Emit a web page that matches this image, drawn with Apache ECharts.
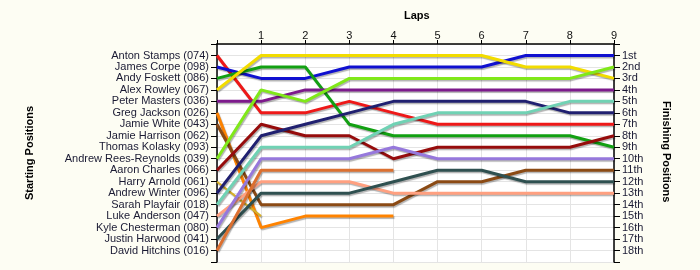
<!DOCTYPE html>
<html>
<head>
<meta charset="utf-8">
<script src="https://cdn.jsdelivr.net/npm/echarts@6/dist/echarts.min.js"></script>
<style>html,body{margin:0;padding:0;background:#fdfdf3;}#c{width:700px;height:270px;}</style>
</head>
<body>
<div id="c"></div>
<script>
// ---- data ----
const laps = [0, 1, 2, 3, 4, 5, 6, 7, 8, 9];
const startLabels = [
  'Anton Stamps (074)', 'James Corpe (098)', 'Andy Foskett (086)', 'Alex Rowley (067)',
  'Peter Masters (036)', 'Greg Jackson (026)', 'Jamie White (043)', 'Jamie Harrison (062)',
  'Thomas Kolasky (093)', 'Andrew Rees-Reynolds (039)', 'Aaron Charles (066)', 'Harry Arnold (061)',
  'Andrew Winter (096)', 'Sarah Playfair (018)', 'Luke Anderson (047)', 'Kyle Chesterman (080)',
  'Justin Harwood (041)', 'David Hitchins (016)'
];
const finishLabels = ['1st','2nd','3rd','4th','5th','6th','7th','8th','9th','10th',
  '11th','12th','13th','14th','15th','16th','17th','18th'];

const antonStamps       = [1, 6, 6, 5, 6, 7, 7, 7, 7, 7];
const jamesCorpe        = [2, 3, 3, 2, 2, 2, 2, 1, 1, 1];
const andyFoskett       = [3, 2, 2, 7, 8, 8, 8, 8, 8, 9];
const alexRowley        = [4, 1, 1, 1, 1, 1, 1, 2, 2, 3];
const peterMasters      = [5, 5, 4, 4, 4, 4, 4, 4, 4, 4];
const gregJackson       = [6, 16, 15, 15, 15];
const jamieWhite        = [7, 14, 14, 14, 14, 12, 12, 11, 11, 11];
const andrewReesReynolds= [10, 4, 5, 3, 3, 3, 3, 3, 3, 2];
const aaronCharles      = [11, 7, 8, 8, 10, 9, 9, 9, 9, 8];
const harryArnold       = [12, 15];
const andrewWinter      = [13, 8, 7, 6, 5, 5, 5, 5, 6, 6];
const sarahPlayfair     = [14, 9, 9, 9, 7, 6, 6, 6, 5, 5];
const lukeAnderson      = [15, 12, 12, 12, 13, 13, 13, 13, 13, 13];
const kyleChesterman    = [16, 10, 10, 10, 9, 10, 10, 10, 10, 10];
const justinHarwood     = [17, 13, 13, 13, 12, 11, 11, 12, 12, 12];
const davidHitchins     = [18, 11, 11, 11, 11];

const seriesData = [
  ['Anton Stamps', antonStamps], ['James Corpe', jamesCorpe], ['Andy Foskett', andyFoskett],
  ['Alex Rowley', alexRowley], ['Peter Masters', peterMasters], ['Greg Jackson', gregJackson],
  ['Jamie White', jamieWhite], ['Andrew Rees-Reynolds', andrewReesReynolds],
  ['Aaron Charles', aaronCharles], ['Harry Arnold', harryArnold], ['Andrew Winter', andrewWinter],
  ['Sarah Playfair', sarahPlayfair], ['Luke Anderson', lukeAnderson],
  ['Kyle Chesterman', kyleChesterman], ['Justin Harwood', justinHarwood],
  ['David Hitchins', davidHitchins]
];
// styles
const colorMap = {
  'Anton Stamps':'#ee1818','James Corpe':'#1010d0','Andy Foskett':'#12a012','Alex Rowley':'#f2dc00',
  'Peter Masters':'#7d1a8c','Greg Jackson':'#ff8300','Jamie White':'#8b4a14','Andrew Rees-Reynolds':'#80e81a',
  'Aaron Charles':'#960c0c','Harry Arnold':'#d8b028','Andrew Winter':'#202070','Sarah Playfair':'#70d2b4',
  'Luke Anderson':'#ffa080','Kyle Chesterman':'#9678dc','Justin Harwood':'#2f5050','David Hitchins':'#dc7030'
};

const FONT = 'Liberation Sans';
const series = seriesData.map(([name, arr]) => ({
  name: name,
  type: 'line',
  yAxisIndex: 0,
  symbol: 'none',
  showSymbol: false,
  data: arr.map((p, i) => [laps[i], p]),
  lineStyle: {
    width: name === 'Harry Arnold' ? 2 : 3,
    color: colorMap[name],
    shadowColor: 'rgba(0,0,0,0.3)',
    shadowOffsetX: 1,
    shadowOffsetY: 1.5,
    shadowBlur: 1
  },
  itemStyle: { color: colorMap[name] },
  silent: true
}));

const axisY = (pos, labels, split) => ({
  type: 'value',
  position: pos,
  inverse: true,
  min: 0, max: 19, interval: 1,
  axisLine: { show: true, lineStyle: { color: '#000', width: 1.5 } },
  axisTick: { show: true, length: 6, lineStyle: { color: '#000', width: 1 } },
  axisLabel: {
    formatter: v => labels[v - 1] || '',
    color: '#1a1a33', fontSize: 11, fontFamily: FONT, margin: 8
  },
  splitLine: { show: split, lineStyle: { color: '#e4e4e4', width: 1 } }
});

const chart = echarts.init(document.getElementById('c'), null, { renderer: 'canvas' });
chart.setOption({
  backgroundColor: '#fdfdf3',
  animation: false,
  grid: { left: 217, right: 86, top: 44, bottom: 8, show: true, backgroundColor: '#ffffff', borderWidth: 0 },
  xAxis: {
    type: 'value', position: 'top', min: 0, max: 9, interval: 1,
    axisLine: { show: true, lineStyle: { color: '#000', width: 1.5 } },
    axisTick: { show: true, length: 4, lineStyle: { color: '#000' } },
    axisLabel: { formatter: v => v === 0 ? '' : String(v), color: '#111', fontSize: 11, fontFamily: FONT, margin: 3 },
    splitLine: { show: true, lineStyle: { color: '#e4e4e4', width: 1 } }
  },
  yAxis: [axisY('left', startLabels, true), axisY('right', finishLabels, false)],
  graphic: [
    { type: 'text', left: 404, top: 10, style: { text: 'Laps', font: 'bold 11px ' + FONT, fill: '#000' } },
    { type: 'text', x: 24, y: 200, rotation: Math.PI / 2,
      style: { text: 'Starting Positions', font: 'bold 11px ' + FONT, fill: '#000' } },
    { type: 'text', x: 672, y: 101, rotation: -Math.PI / 2,
      style: { text: 'Finishing Positions', font: 'bold 11px ' + FONT, fill: '#000' } }
  ],
  series: series
});
</script>
</body>
</html>
